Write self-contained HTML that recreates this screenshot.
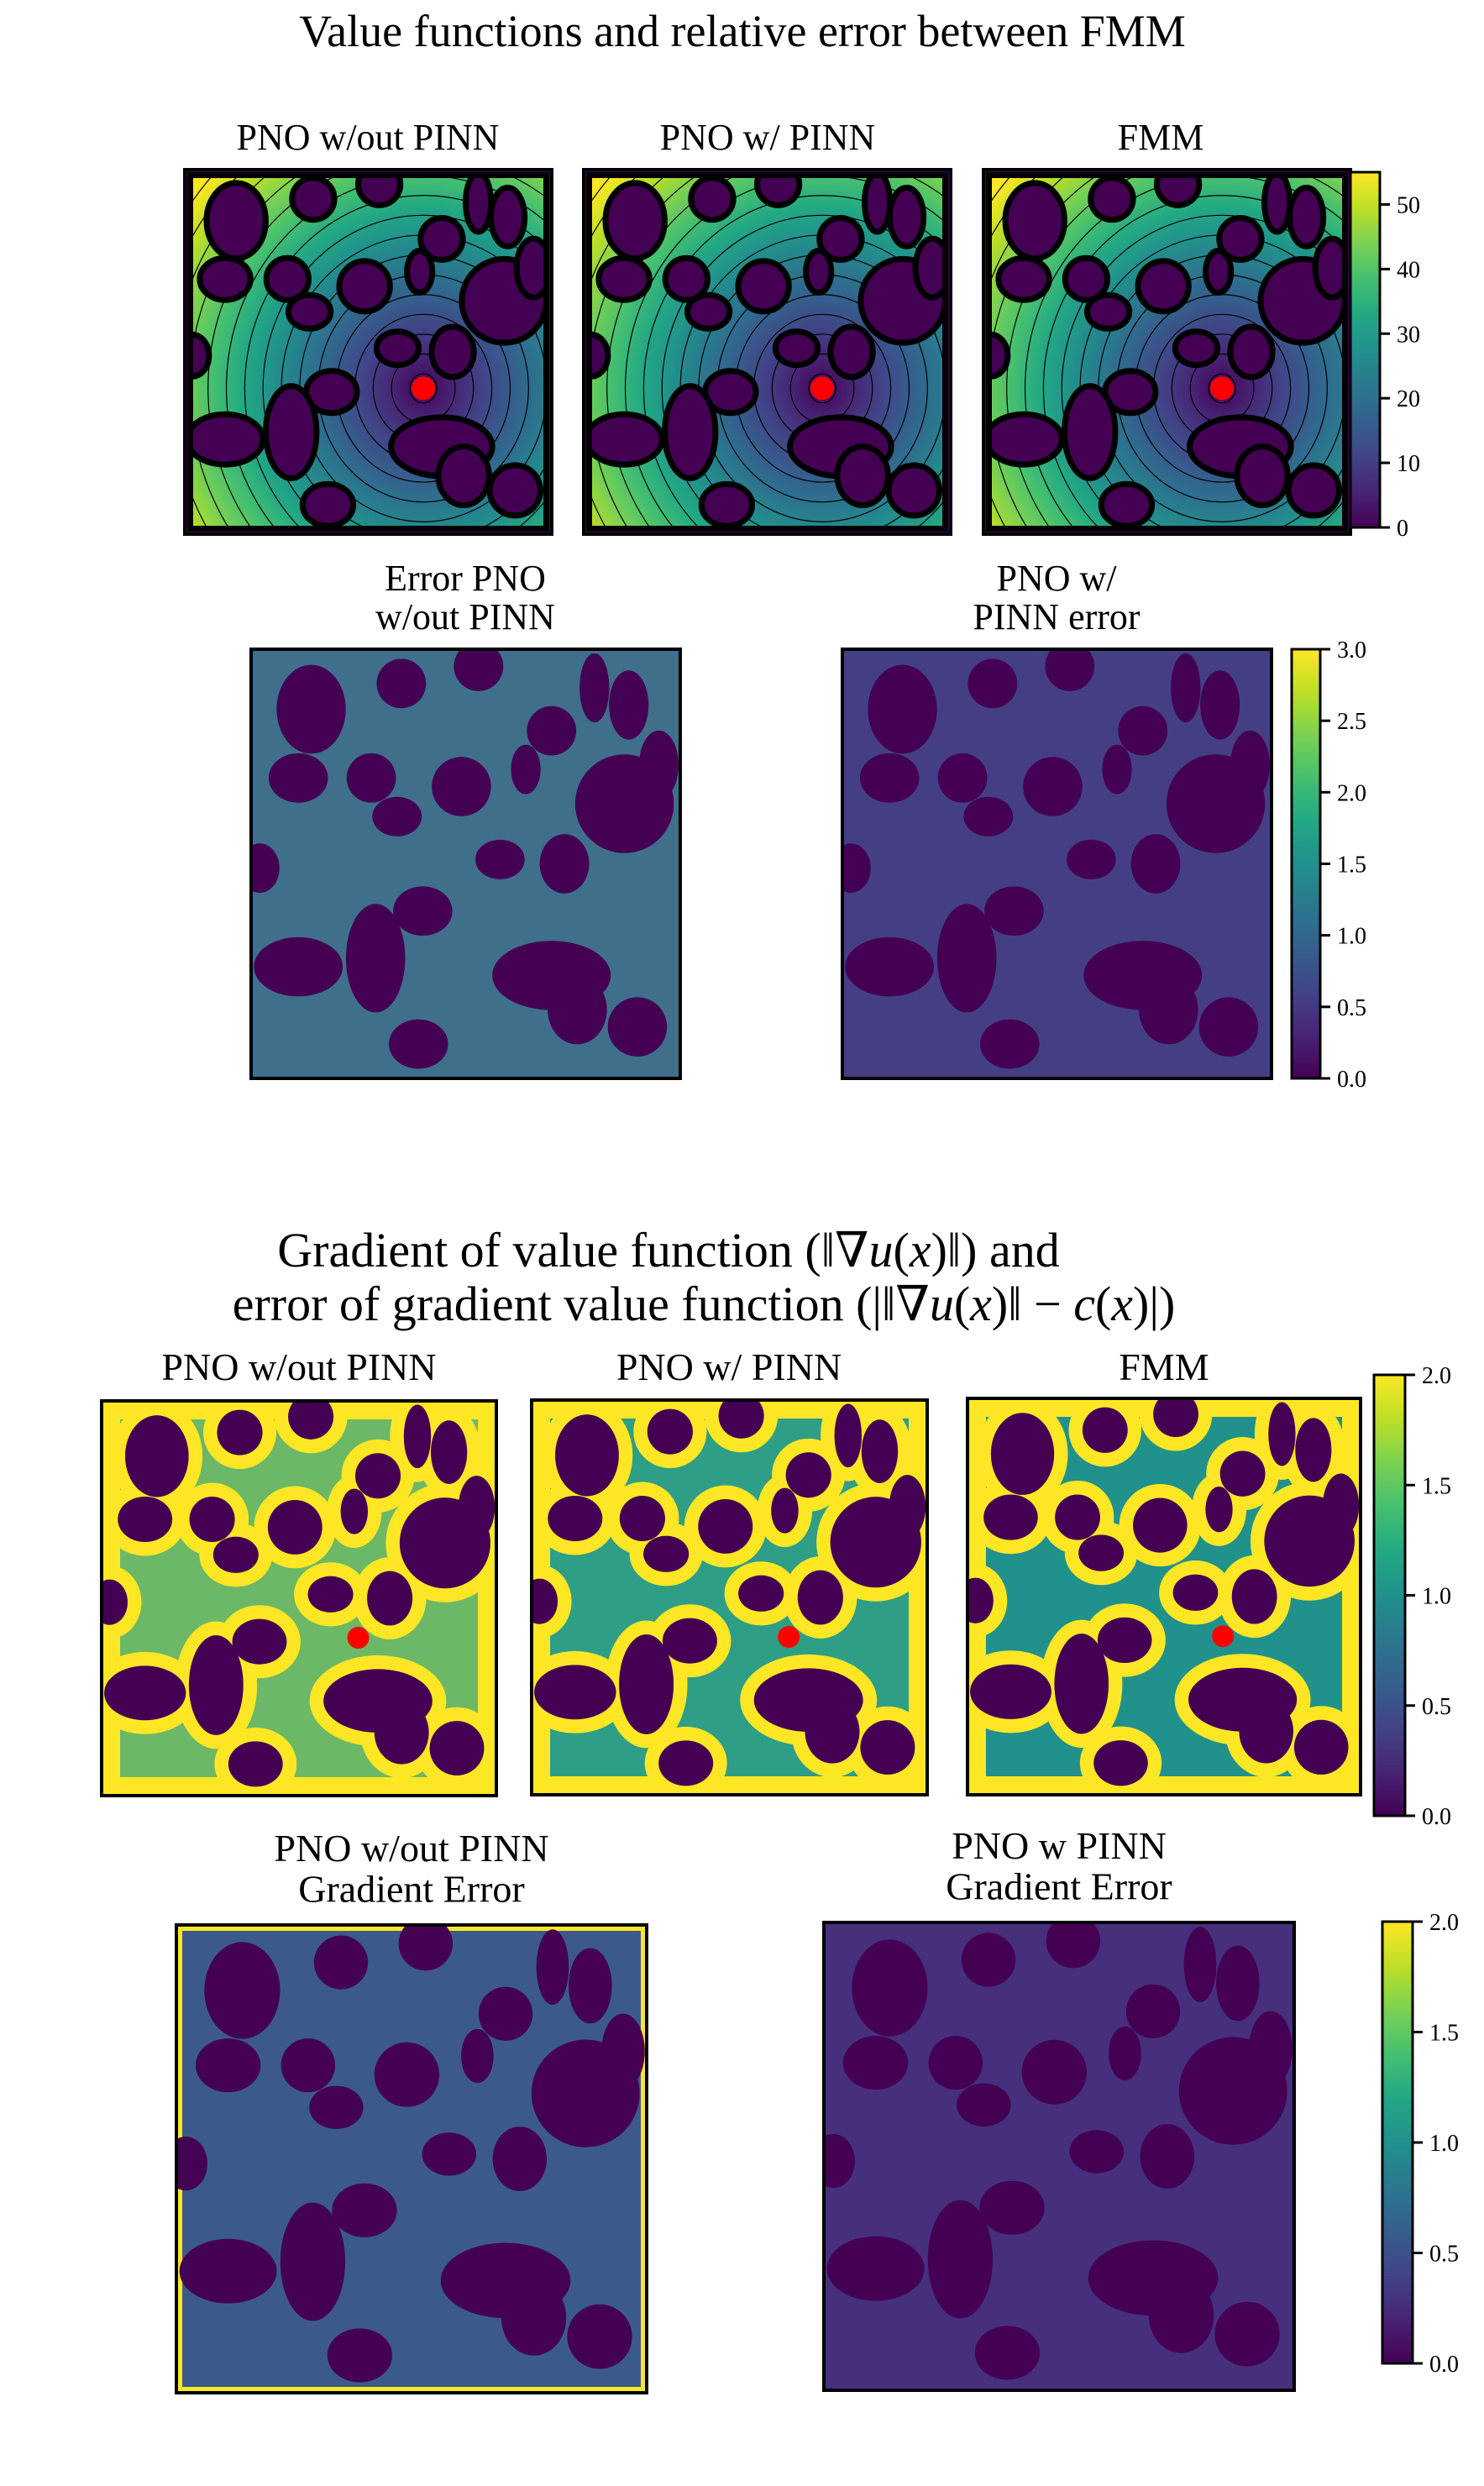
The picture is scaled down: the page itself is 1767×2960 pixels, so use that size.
<!DOCTYPE html>
<html><head><meta charset="utf-8"><style>
html,body{margin:0;padding:0;background:#fff}
svg{display:block}
text{font-family:"Liberation Serif","DejaVu Serif",serif;fill:#000}
</style></head><body>
<svg id="fig" width="1767" height="2960" viewBox="0 0 1767 2960">
<defs>
<linearGradient id="cbgrad" x1="0" y1="1" x2="0" y2="0">
<stop offset="0" stop-color="#440154"/><stop offset="0.1" stop-color="#482475"/><stop offset="0.2" stop-color="#414487"/><stop offset="0.3" stop-color="#355f8d"/><stop offset="0.4" stop-color="#2a788e"/><stop offset="0.5" stop-color="#21918c"/><stop offset="0.6" stop-color="#22a884"/><stop offset="0.7" stop-color="#44bf70"/><stop offset="0.8" stop-color="#7ad151"/><stop offset="0.9" stop-color="#bddf26"/><stop offset="1" stop-color="#fde725"/>
</linearGradient>
</defs>
<text x="884" y="55" font-size="54" text-anchor="middle">Value functions and relative error between FMM</text>
<text x="796" y="1508" font-size="58" text-anchor="middle">Gradient of value function (‖∇<tspan font-style="italic">u</tspan>(<tspan font-style="italic">x</tspan>)‖) and</text>
<text x="838" y="1572" font-size="58" text-anchor="middle">error of gradient value function (|‖∇<tspan font-style="italic">u</tspan>(<tspan font-style="italic">x</tspan>)‖ − <tspan font-style="italic">c</tspan>(<tspan font-style="italic">x</tspan>)|)</text>
<g id="panels"></g>
</svg>
<script>
// obstacle map (normalized cx, cy, rx, ry)
const obsCx = [0.14,0.35,0.53,0.80,0.88,0.70,0.11,0.28,0.34,0.49,0.64,0.87,0.95,0.58,0.73,0.02,0.40,0.29,0.11,0.70,0.76,0.90,0.39];
const obsCy = [0.14,0.08,0.04,0.09,0.13,0.19,0.30,0.30,0.39,0.32,0.28,0.36,0.27,0.49,0.50,0.51,0.61,0.72,0.74,0.76,0.84,0.88,0.92];
const obsRx = [0.07,0.05,0.05,0.03,0.04,0.05,0.06,0.05,0.05,0.06,0.03,0.10,0.04,0.05,0.05,0.04,0.06,0.06,0.09,0.12,0.06,0.06,0.06];
const obsRy = [0.09,0.05,0.05,0.07,0.07,0.05,0.05,0.05,0.04,0.06,0.05,0.10,0.07,0.04,0.06,0.05,0.05,0.11,0.06,0.07,0.07,0.06,0.05];
const sourcePt = [0.65,0.60];
const cb1Ticks = [0,10,20,30,40,50]; const cb1Max = 55;
const cb2Ticks = [0.0,0.5,1.0,1.5,2.0,2.5,3.0]; const cb2Max = 3.0;
const cb3Ticks = [0.0,0.5,1.0,1.5,2.0]; const cb3Max = 2.0;

const NS='http://www.w3.org/2000/svg';
const root=document.getElementById('panels');
const vir=['#440154','#482475','#414487','#355f8d','#2a788e','#21918c','#22a884','#44bf70','#7ad151','#bddf26','#fde725'];
const SC=1.15;
function mk(tag,attrs,parent){const e=document.createElementNS(NS,tag);for(const k in attrs)e.setAttribute(k,attrs[k]);(parent||root).appendChild(e);return e;}
let gid=0;
function panel(x,y,w,h,style,name){
  const g=mk('g',{});
  
  
  gid++;
  const cp=mk('clipPath',{id:'cp'+gid},g); mk('rect',{x:x,y:y,width:w,height:h},cp);
  const inner=mk('g',{'clip-path':'url(#cp'+gid+')'},g);
  const sx=x+sourcePt[0]*w, sy=y+sourcePt[1]*h;
  const bgs={err1:'#3f6f8b',err2:'#443f85',grad1:'#6cb866',grad2:'#2e9e86',grad3:'#21918c',gerr1:'#3b5a8b',gerr2:'#462f7c'};
  if(style.startsWith('value')){
    const gr=mk('radialGradient',{id:'rg'+gid,gradientUnits:'userSpaceOnUse',cx:sx,cy:sy,r:0.82*w},g);
    vir.forEach((c,i)=>mk('stop',{offset:i/10,'stop-color':c},gr));
    mk('rect',{x:x,y:y,width:w,height:h,fill:'url(#rg'+gid+')'},inner);
    for(let r=16;r<w*1.0;r+=w*0.05){mk('ellipse',{cx:sx,cy:sy,rx:r,ry:r*1.08,fill:'none',stroke:'#000','stroke-width':1.2},inner);}
  } else {
    mk('rect',{x:x,y:y,width:w,height:h,fill:bgs[style]},inner);
  }
  const halo=style.startsWith('grad');
  if(halo){
    mk('rect',{x:x,y:y,width:w,height:h,fill:'none',stroke:'#fde725','stroke-width':44},inner);
    for(let i=0;i<obsCx.length;i++){
      const o=mk('ellipse',{cx:x+obsCx[i]*w,cy:y+obsCy[i]*h,rx:(obsRx[i]*SC+0.035)*w,ry:(obsRy[i]*SC+0.035)*h,fill:'#fde725'},inner);
      
      
    }
  }
  if(style==='gerr1'){
    mk('rect',{x:x,y:y,width:w,height:h,fill:'none',stroke:'#fde725','stroke-width':14},inner);
  }
  for(let i=0;i<obsCx.length;i++){
    const a={cx:x+obsCx[i]*w,cy:y+obsCy[i]*h,rx:obsRx[i]*SC*w,ry:obsRy[i]*SC*h,fill:'#440154'};
    if(style.startsWith('value')){a.stroke='#000';a['stroke-width']=7;}
    const o=mk('ellipse',a,inner);
    
    
  }
  if(style.startsWith('value')){
    mk('rect',{x:x+6,y:y+6,width:w-12,height:h-12,fill:'none',stroke:'#000','stroke-width':8},inner);
    mk('rect',{x:x+1,y:y+1,width:w-2,height:h-2,fill:'none',stroke:'#440154','stroke-width':4},inner);
  }
  mk('rect',{x:x,y:y,width:w,height:h,fill:'none',stroke:'#000','stroke-width':4},g);
  if(style.startsWith('value')||style.startsWith('grad')){
    const d=mk('circle',{cx:sx,cy:sy,r:style.startsWith('value')?14:13,fill:'#ff0000'},g);
    
    
  }
}
function title(cx,y,lines,size,name){
  lines.forEach((t,i)=>{
    const e=mk('text',{x:cx,y:y+i*size*1.05,'font-size':size,'text-anchor':'middle'});
    e.textContent=t;
    
    
  });
}
function colorbar(x,y,w,h,ticks,max,fmt,name){
  const g=mk('g',{});
  
  
  mk('rect',{x:x,y:y,width:w,height:h,fill:'url(#cbgrad)',stroke:'#000','stroke-width':3},g);
  ticks.forEach(t=>{
    const ty=y+h-(t/max)*h;
    mk('line',{x1:x+w,x2:x+w+12,y1:ty,y2:ty,stroke:'#000','stroke-width':3},g);
    const tx=mk('text',{x:x+w+20,y:ty+10,'font-size':28},g);
    tx.textContent=fmt(t);
    
    
  });
}
// Row 1
title(438,178,['PNO w/out PINN'],44,'title-pno-without-pinn');
title(914,178,['PNO w/ PINN'],44,'title-pno-with-pinn');
title(1382,178,['FMM'],44,'title-fmm');
panel(220,202,437,434,'value1','value-panel-pno-without-pinn');
panel(695,202,437,434,'value2','value-panel-pno-with-pinn');
panel(1171,202,437,434,'value3','value-panel-fmm');
colorbar(1608,205,35,423,cb1Ticks,cb1Max,t=>String(t),'colorbar-value');
// Row 2
title(554,703,['Error PNO','w/out PINN'],44,'title-error-pno-without-pinn');
title(1258,703,['PNO w/','PINN error'],44,'title-error-pno-with-pinn');
panel(299,773,511,511,'err1','error-panel-without-pinn');
panel(1003,773,511,511,'err2','error-panel-with-pinn');
colorbar(1538,773,34,511,cb2Ticks,cb2Max,t=>t.toFixed(1),'colorbar-error');
// Row 3
title(356,1643,['PNO w/out PINN'],46,'title-grad-pno-without-pinn');
title(868,1643,['PNO w/ PINN'],46,'title-grad-pno-with-pinn');
title(1386,1643,['FMM'],46,'title-grad-fmm');
panel(121,1668,470,470,'grad1','gradient-panel-without-pinn');
panel(633,1667,471,470,'grad2','gradient-panel-with-pinn');
panel(1152,1665,468,472,'grad3','gradient-panel-fmm');
colorbar(1636,1637,37,525,cb3Ticks,cb3Max,t=>t.toFixed(1),'colorbar-gradient');
// Row 4
title(490,2216,['PNO w/out PINN','Gradient Error'],46,'title-gradient-error-without-pinn');
title(1261,2213,['PNO w PINN','Gradient Error'],46,'title-gradient-error-with-pinn');
panel(210,2292,560,557,'gerr1','gradient-error-panel-without-pinn');
panel(981,2289,560,557,'gerr2','gradient-error-panel-with-pinn');
colorbar(1646,2288,36,526,cb3Ticks,cb3Max,t=>t.toFixed(1),'colorbar-gradient-error');
</script>
</body></html>
